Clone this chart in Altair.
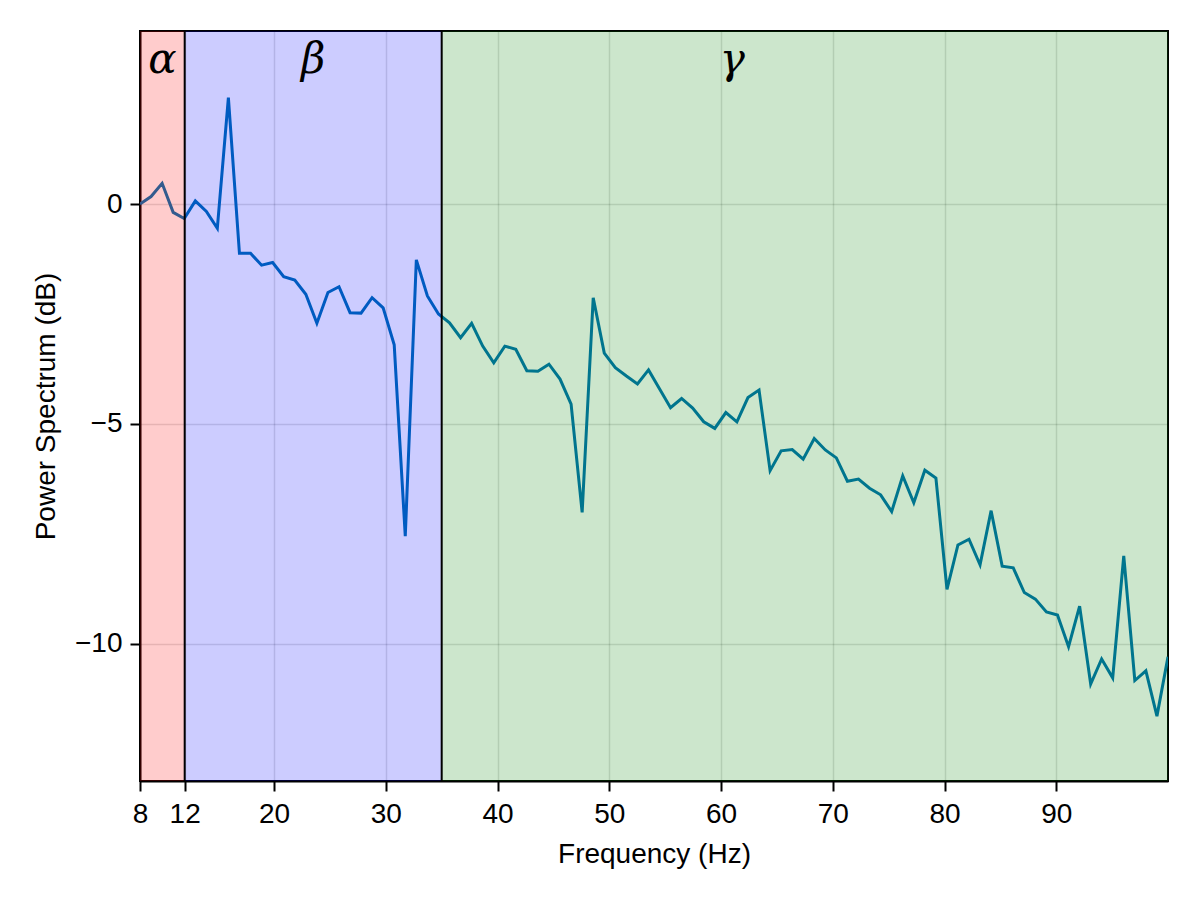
import altair as alt
import pandas as pd

freqs = [8.00, 8.99, 9.98, 10.97, 11.96, 12.95, 13.94, 14.92, 15.91, 16.90,
         17.89, 18.88, 19.87, 20.86, 21.85, 22.84, 23.83, 24.82, 25.81, 26.80,
         27.78, 28.77, 29.76, 30.75, 31.74, 32.73, 33.72, 34.71, 35.70, 36.69,
         37.68, 38.67, 39.66, 40.65, 41.63, 42.62, 43.61, 44.60, 45.59, 46.58,
         47.57, 48.56, 49.55, 50.54, 51.53, 52.52, 53.51, 54.49, 55.48, 56.47,
         57.46, 58.45, 59.44, 60.43, 61.42, 62.41, 63.40, 64.39, 65.38, 66.37,
         67.35, 68.34, 69.33, 70.32, 71.31, 72.30, 73.29, 74.28, 75.27, 76.26,
         77.25, 78.24, 79.23, 80.22, 81.20, 82.19, 83.18, 84.17, 85.16, 86.15,
         87.14, 88.13, 89.12, 90.11, 91.10, 92.09, 93.08, 94.06, 95.05, 96.04,
         97.03, 98.02, 99.01, 100.00]

power_db = [0.0, 0.17, 0.47, -0.19, -0.33, 0.07, -0.17, -0.55, 2.42, -1.12,
            -1.12, -1.39, -1.33, -1.65, -1.73, -2.05, -2.71, -2.01, -1.88, -2.47,
            -2.48, -2.13, -2.36, -3.20, -7.55, -1.27, -2.09, -2.50, -2.70, -3.04,
            -2.71, -3.23, -3.61, -3.23, -3.30, -3.79, -3.80, -3.64, -3.98, -4.55,
            -7.01, -2.13, -3.39, -3.72, -3.91, -4.09, -3.77, -4.20, -4.63, -4.42,
            -4.64, -4.95, -5.10, -4.74, -4.95, -4.40, -4.23, -6.06, -5.61, -5.58,
            -5.80, -5.33, -5.59, -5.77, -6.30, -6.25, -6.46, -6.61, -6.99, -6.18,
            -6.79, -6.05, -6.23, -8.76, -7.75, -7.62, -8.20, -6.97, -8.23, -8.27,
            -8.83, -8.98, -9.27, -9.34, -10.06, -9.14, -10.91, -10.34, -10.77, -8.00,
            -10.83, -10.61, -11.64, -10.29]

band_names = ["α", "β", "γ"]
band_start = [8, 12, 35]
band_end = [12, 35, 100]
band_colors = ["#ff0000", "#0000ff", "#008000"]
label_x = [10, 23.5, 61]
boundaries = [12, 35]

x_ticks = [8, 12, 20, 30, 40, 50, 60, 70, 80, 90]
y_ticks = [0, -5, -10]

spec_df = pd.DataFrame({"f": freqs, "p": power_db})
band_df = pd.DataFrame({"name": band_names, "start": band_start, "end": band_end,
                        "color": band_colors, "lx": label_x})
bound_df = pd.DataFrame({"f": boundaries})

xscale = alt.Scale(domain=[8, 100], nice=False, zero=False)
yscale = alt.Scale(domain=[-13.114, 3.932], nice=False, zero=False)

line = alt.Chart(spec_df).mark_line(color="#0072B2", strokeWidth=3, clip=True).encode(
    x=alt.X("f:Q", scale=xscale,
            axis=alt.Axis(title="Frequency (Hz)", values=x_ticks, grid=True,
                          labelFlush=False, labelOverlap=False)),
    y=alt.Y("p:Q", scale=yscale,
            axis=alt.Axis(title="Power Spectrum (dB)", values=y_ticks, grid=True,
                          labelFlush=False,
                          labelExpr="datum.value < 0 ? '−' + abs(datum.value) : datum.label")),
)

bands = alt.Chart(band_df).mark_rect(opacity=0.2).encode(
    x=alt.X("start:Q", scale=xscale),
    x2="end:Q",
    y=alt.value(0),
    y2=alt.value(750),
    color=alt.Color("color:N", scale=None),
)

rules = alt.Chart(bound_df).mark_rule(color="black", strokeWidth=2).encode(
    x=alt.X("f:Q", scale=xscale),
)

labels = alt.Chart(band_df).mark_text(
    font="DejaVu Serif", fontStyle="italic", fontSize=42,
    baseline="alphabetic", align="center", color="black"
).encode(
    x=alt.X("lx:Q", scale=xscale),
    y=alt.value(42),
    text="name:N",
)

chart = alt.layer(line, bands, rules, labels).properties(
    width=1028, height=750,
    autosize=alt.AutoSizeParams(type="none"),
    padding={"left": 132, "top": 23, "right": 24, "bottom": 111},
).configure_view(
    stroke="black", strokeWidth=2
).configure_axis(
    labelFont="Liberation Sans", titleFont="Liberation Sans",
    labelFontSize=28, titleFontSize=28, titleFontWeight="normal",
    labelColor="black", titleColor="black",
    tickColor="black", tickSize=10, tickWidth=2,
    domainColor="black", domainWidth=2,
    gridColor="black", gridOpacity=0.12, gridWidth=1.5,
).configure_axisX(
    labelPadding=9, titlePadding=12,
).configure_axisY(
    labelPadding=8, titlePadding=14,
)

chart.save("out.html", embed_options={"renderer": "svg", "actions": False})
